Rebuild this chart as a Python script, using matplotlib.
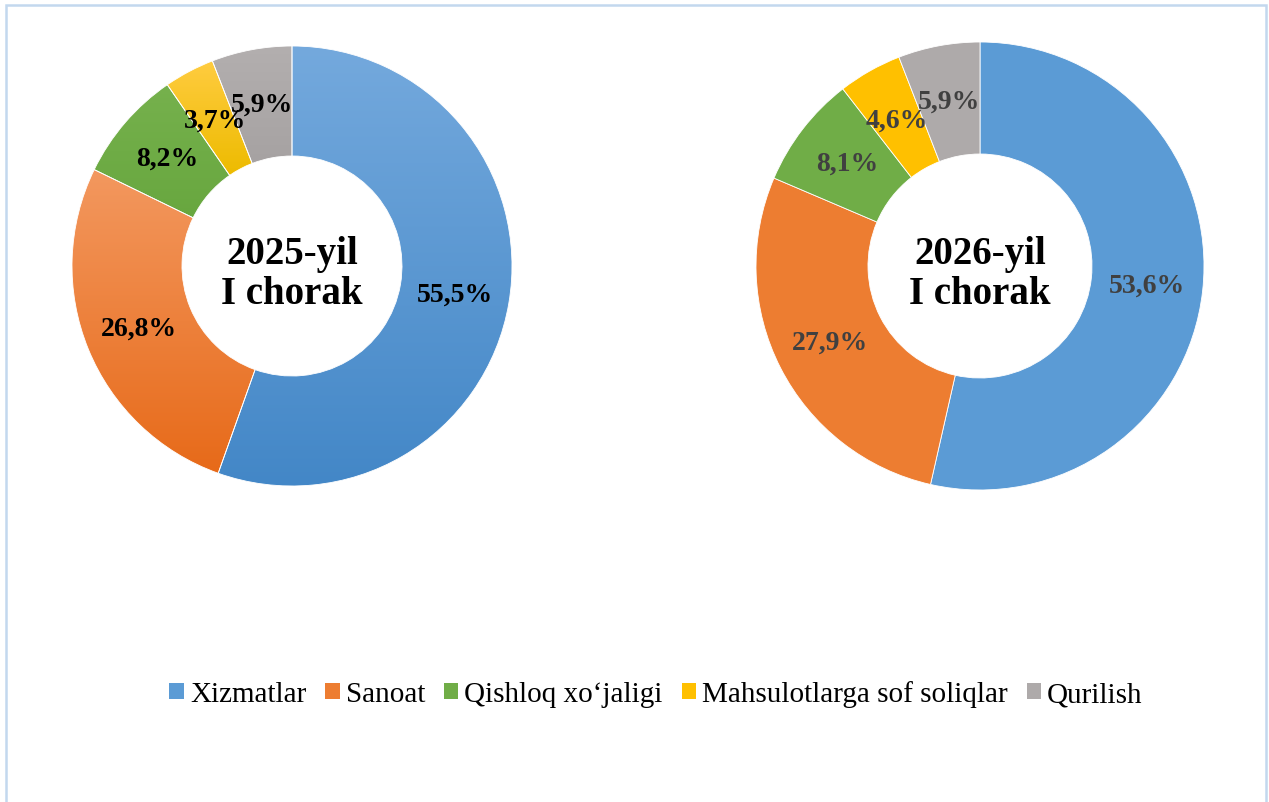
import numpy as np
import matplotlib
matplotlib.use("Agg")
import matplotlib.pyplot as plt
from matplotlib.patches import Rectangle, Patch
from matplotlib.colors import LinearSegmentedColormap

plt.rcParams['font.family'] = ['Liberation Serif', 'DejaVu Serif']

categories = ['Xizmatlar', 'Sanoat', 'Qishloq xo\u2018jaligi', 'Mahsulotlarga sof soliqlar', 'Qurilish']
share_2025 = [55.5, 26.8, 8.2, 3.7, 5.9]
share_2026 = [53.6, 27.9, 8.1, 4.6, 5.9]
title_2025 = '2025-yil\nI chorak'
title_2026 = '2026-yil\nI chorak'

colors = ['#5B9BD5', '#ED7D31', '#70AD47', '#FFC000', '#AEAAAA']
# light (top) / dark (bottom) colours for the gradient-filled left chart
grad = [('#74A9DD', '#4387C7'), ('#F3985F', '#E76A19'), ('#76B14D', '#68A73F'),
        ('#FFCC40', '#EDBB00'), ('#B3AFAF', '#A6A2A2')]

W, H = 1269, 803
fig = plt.figure(figsize=(W / 100, H / 100), dpi=100)


def donut_axes(cx, cy, r):
    pad = 1.05
    s = r * pad
    ax = fig.add_axes([(cx - s) / W, 1 - (cy + s) / H, 2 * s / W, 2 * s / H])
    ax.set_xlim(-pad, pad)
    ax.set_ylim(-pad, pad)
    ax.set_aspect('equal')
    ax.axis('off')
    return ax


def draw_donut(ax, values, title, txt_color, gradient):
    wedges, _ = ax.pie(values, colors=colors, startangle=90, counterclock=False,
                       radius=1.0, wedgeprops=dict(width=0.5, edgecolor='white', linewidth=0.6))
    for i, w in enumerate(wedges):
        if gradient:
            ext = w.get_path().get_extents()
            cmap = LinearSegmentedColormap.from_list('g', [grad[i][1], grad[i][0]])
            g = np.linspace(0, 1, 256).reshape(-1, 1)
            im = ax.imshow(g, cmap=cmap, origin='lower', aspect='auto',
                           extent=[ext.x0, ext.x1, ext.y0, ext.y1], zorder=1)
            im.set_clip_path(w)
            w.set_facecolor('none')
            w.set_zorder(2)
        mid = np.deg2rad((w.theta1 + w.theta2) / 2)
        lab = f'{values[i]:.1f}%'.replace('.', ',')
        ax.text(0.75 * np.cos(mid), 0.75 * np.sin(mid), lab, ha='center', va='center',
                fontsize=20, fontweight='bold', color=txt_color, zorder=5)
    ax.text(0, -0.035, title, ha='center', va='center', fontsize=28,
            fontweight='bold', color='black', linespacing=1.1, zorder=5)
    ax.set_xlim(-1.05, 1.05)
    ax.set_ylim(-1.05, 1.05)


ax1 = donut_axes(292, 267, 220)
draw_donut(ax1, share_2025, title_2025, 'black', True)

ax2 = donut_axes(980, 267, 224)
draw_donut(ax2, share_2026, title_2026, '#404040', False)

handles = [Patch(facecolor=c, edgecolor='none') for c in colors]
fig.legend(handles, categories, loc='center', bbox_to_anchor=(656 / W, 1 - 695 / H),
           ncol=5, frameon=False, fontsize=21, handlelength=0.5, handleheight=0.5,
           handletextpad=0.2, columnspacing=0.65)

fig.patches.append(Rectangle((6 / W, -0.05), 1260 / W, 1.05 - 6 / H, transform=fig.transFigure,
                             fill=False, edgecolor='#C3D8EE', linewidth=1.8))

fig.savefig('out.png', dpi=100)
